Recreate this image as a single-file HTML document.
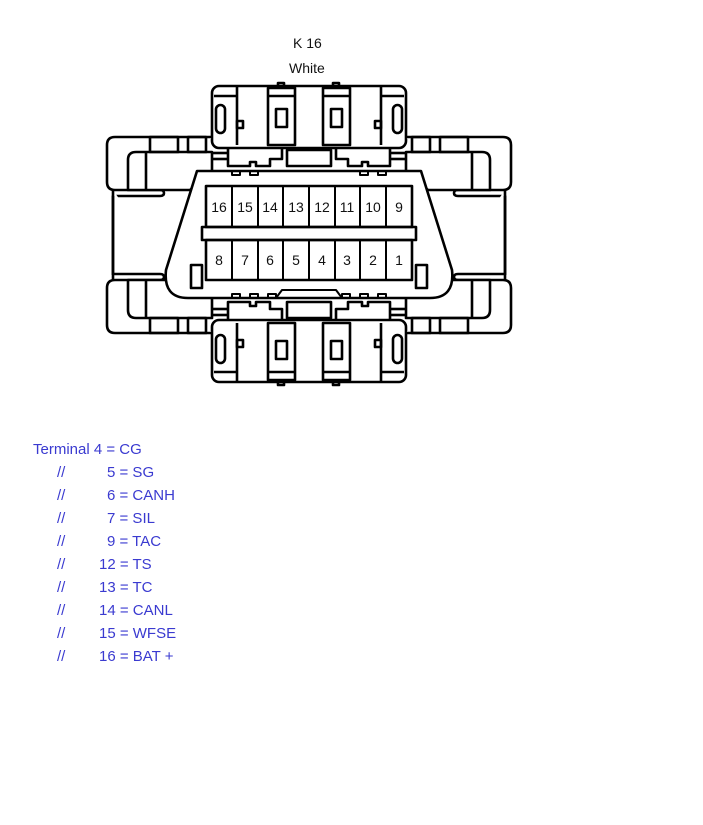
<!DOCTYPE html>
<html><head><meta charset="utf-8"><style>
body{margin:0;background:#fff;width:703px;height:825px;overflow:hidden;position:relative;font-family:"Liberation Sans",sans-serif}
.t{position:absolute;font-size:14px;color:#111}
.l{position:absolute;font-family:"Liberation Sans",sans-serif;font-size:15px;color:#3a3ad0;white-space:pre}
</style></head><body>
<div class="t" style="left:293px;top:35px">K 16</div>
<div class="t" style="left:289px;top:60px">White</div>
<svg width="703" height="400" style="position:absolute;left:0;top:0" fill="none" stroke="#000" stroke-width="2.6" stroke-linejoin="round">
<defs>
<g id="top">
  <rect x="212" y="86" width="194" height="62" rx="7" fill="#fff"/>
  <line x1="237" y1="87" x2="237" y2="145"/>
  <line x1="381" y1="87" x2="381" y2="145"/>
  <rect x="268" y="88" width="27" height="57"/>
  <rect x="323" y="88" width="27" height="57"/>
  <line x1="268" y1="96" x2="295" y2="96"/>
  <line x1="323" y1="96" x2="350" y2="96"/>
  <rect x="276" y="109" width="11" height="18"/>
  <rect x="331" y="109" width="11" height="18"/>
  <rect x="278" y="83" width="6" height="4"/>
  <rect x="333" y="83" width="6" height="4"/>
  <rect x="216" y="105" width="9" height="28" rx="4.5"/>
  <rect x="393" y="105" width="9" height="28" rx="4.5"/>
  <rect x="237" y="121" width="6" height="7"/>
  <rect x="375" y="121" width="6" height="7"/>
  <line x1="214" y1="96" x2="237" y2="96"/>
  <line x1="381" y1="96" x2="404" y2="96"/>
  <polyline points="228,148 228,166 250,166 250,162 256,162 256,166 270,166 270,159 282,159 282,148"/>
  <polyline points="390,148 390,166 368,166 368,162 362,162 362,166 348,166 348,159 336,159 336,148"/>
  <rect x="287" y="150" width="44" height="16"/>
  <line x1="212" y1="153" x2="228" y2="153"/>
  <line x1="212" y1="159" x2="228" y2="159"/>
  <line x1="390" y1="153" x2="406" y2="153"/>
  <line x1="390" y1="159" x2="406" y2="159"/>
</g>
<g id="side">
  <path d="M212,137 H115 Q107,137 107,145 V182 Q107,190 115,190 H160 Q164,190 164,193 Q164,196 160,196 H113 V280" fill="#fff"/>
  <path d="M128,160 Q128,152 136,152 H212 V172 L190,190 H128 Z" fill="#fff"/>
  <rect x="150" y="137" width="28" height="15"/>
  <rect x="188" y="137" width="18" height="15"/>
  <line x1="146" y1="152" x2="146" y2="190"/>
</g>
</defs>
<use href="#top"/>
<use href="#top" transform="translate(0,468) scale(1,-1)"/>
<use href="#side"/>
<use href="#side" transform="translate(0,470) scale(1,-1)"/>
<use href="#side" transform="translate(618,0) scale(-1,1)"/>
<use href="#side" transform="translate(618,470) scale(-1,-1)"/>
<line x1="113" y1="196" x2="113" y2="275"/>
<line x1="505" y1="196" x2="505" y2="275"/>
<path d="M197,171 H421 L452,270 Q455,298 430,298 H188 Q163,298 166,270 Z" fill="#fff"/>
<polyline points="232,298 232,294 240,294 240,298 250,298 250,294 258,294 258,298 268,298 268,294 276,294 276,298" stroke-width="2"/>
<polyline points="342,298 342,294 350,294 350,298 360,298 360,294 368,294 368,298 378,298 378,294 386,294 386,298" stroke-width="2"/>
<polyline points="276,298 282,290 336,290 342,298" stroke-width="2"/>
<polyline points="232,171 232,175 240,175 240,171 250,171 250,175 258,175 258,171 360,171 360,175 368,175 368,171 378,171 378,175 386,175 386,171" stroke-width="2"/>
<rect x="206" y="186" width="206" height="41"/>
<rect x="202" y="227" width="214" height="13"/>
<rect x="206" y="240" width="206" height="40"/>
<g stroke-width="2">
<line x1="232" y1="186" x2="232" y2="227"/><line x1="258" y1="186" x2="258" y2="227"/><line x1="283" y1="186" x2="283" y2="227"/><line x1="309" y1="186" x2="309" y2="227"/><line x1="335" y1="186" x2="335" y2="227"/><line x1="360" y1="186" x2="360" y2="227"/><line x1="386" y1="186" x2="386" y2="227"/>
<line x1="232" y1="240" x2="232" y2="280"/><line x1="258" y1="240" x2="258" y2="280"/><line x1="283" y1="240" x2="283" y2="280"/><line x1="309" y1="240" x2="309" y2="280"/><line x1="335" y1="240" x2="335" y2="280"/><line x1="360" y1="240" x2="360" y2="280"/><line x1="386" y1="240" x2="386" y2="280"/>
</g>
<rect x="191" y="265" width="11" height="23"/>
<rect x="416" y="265" width="11" height="23"/>
<g fill="#111" stroke="none" font-family="Liberation Sans" font-size="14" text-anchor="middle">
<text x="219" y="212">16</text><text x="245" y="212">15</text><text x="270" y="212">14</text><text x="296" y="212">13</text><text x="322" y="212">12</text><text x="347" y="212">11</text><text x="373" y="212">10</text><text x="399" y="212">9</text>
<text x="219" y="265">8</text><text x="245" y="265">7</text><text x="270" y="265">6</text><text x="296" y="265">5</text><text x="322" y="265">4</text><text x="347" y="265">3</text><text x="373" y="265">2</text><text x="399" y="265">1</text>
</g>
</svg>
<div class="l" style="left:33px;top:441px">Terminal 4 = CG</div>
<div class="l" style="left:57px;top:464px">//</div><div class="l" style="left:107px;top:464px">5 = SG</div>
<div class="l" style="left:57px;top:487px">//</div><div class="l" style="left:107px;top:487px">6 = CANH</div>
<div class="l" style="left:57px;top:510px">//</div><div class="l" style="left:107px;top:510px">7 = SIL</div>
<div class="l" style="left:57px;top:533px">//</div><div class="l" style="left:107px;top:533px">9 = TAC</div>
<div class="l" style="left:57px;top:556px">//</div><div class="l" style="left:99px;top:556px">12 = TS</div>
<div class="l" style="left:57px;top:579px">//</div><div class="l" style="left:99px;top:579px">13 = TC</div>
<div class="l" style="left:57px;top:602px">//</div><div class="l" style="left:99px;top:602px">14 = CANL</div>
<div class="l" style="left:57px;top:625px">//</div><div class="l" style="left:99px;top:625px">15 = WFSE</div>
<div class="l" style="left:57px;top:648px">//</div><div class="l" style="left:99px;top:648px">16 = BAT +</div>
</body></html>
